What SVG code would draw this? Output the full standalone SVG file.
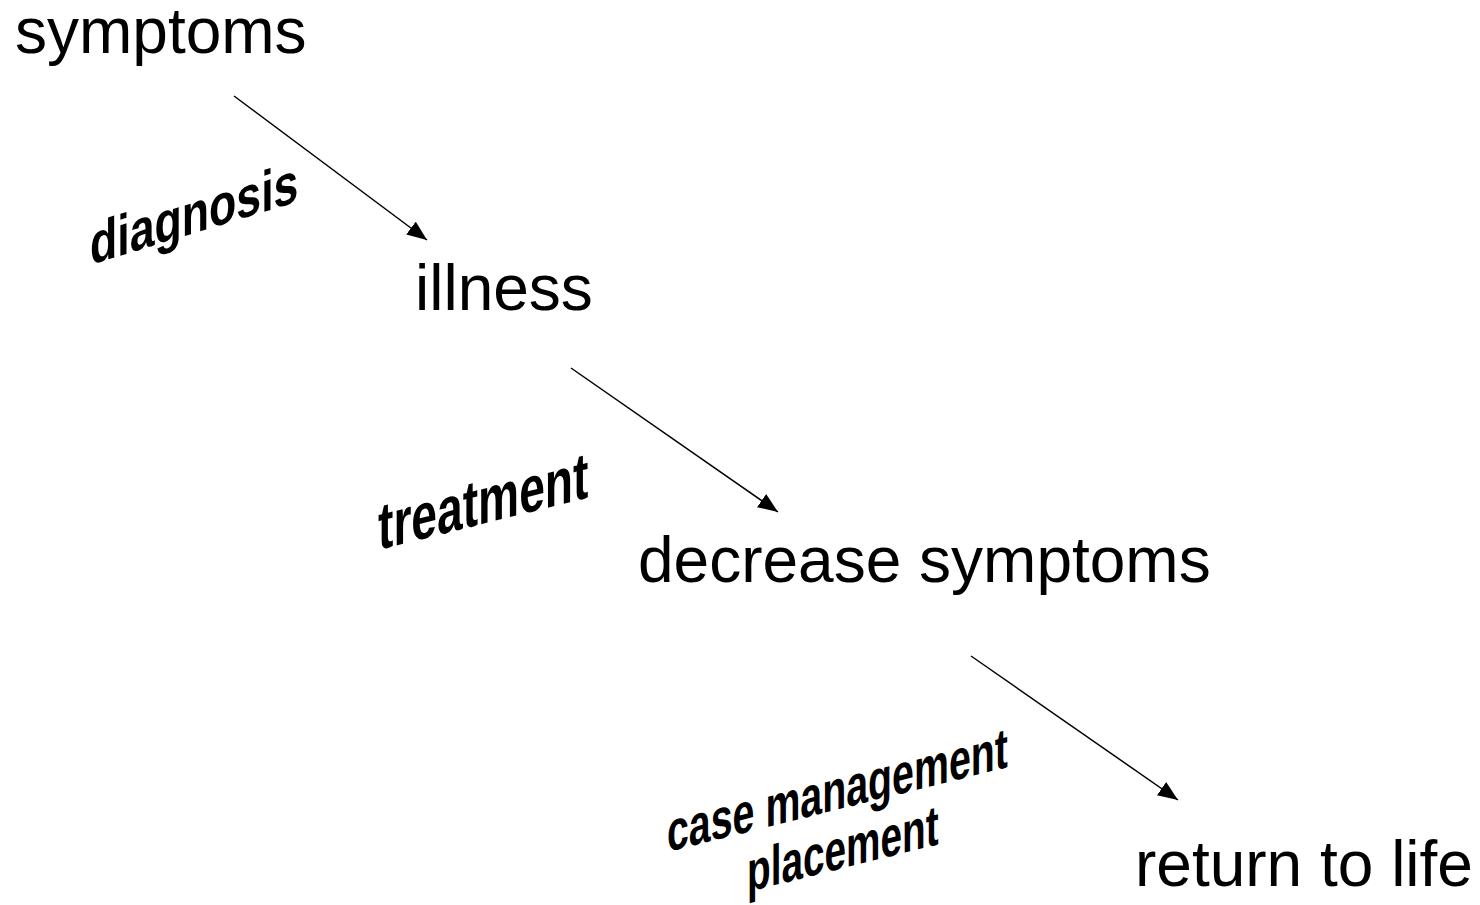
<svg xmlns="http://www.w3.org/2000/svg" width="1480" height="905" viewBox="0 0 1480 905">
<style>
.node{font-family:"Liberation Sans",Arial,sans-serif;font-size:64px;fill:#000}
.lbl{font-family:"Liberation Sans",Arial,sans-serif;font-weight:bold;fill:#000}
.conn{stroke:#000;stroke-width:1.5;fill:none}
</style>
<defs>
<marker id="ah" markerUnits="userSpaceOnUse" markerWidth="24" markerHeight="18" refX="20" refY="8" orient="auto">
<path d="M0,0 L20,8 L0,16 Z" fill="#000"/>
</marker>
</defs>
<rect width="1480" height="905" fill="#fff"/>
<g id="connectors">
<line class="conn" x1="234" y1="96" x2="427" y2="240" marker-end="url(#ah)"/>
<line class="conn" x1="571" y1="368" x2="778" y2="512" marker-end="url(#ah)"/>
<line class="conn" x1="971" y1="656" x2="1178" y2="800" marker-end="url(#ah)"/>
</g>
<g id="symptoms"><text class="node" x="15" y="53">symptoms</text></g>
<g id="illness"><text class="node" x="415" y="310">illness</text></g>
<g id="decrease"><text class="node" x="638" y="582">decrease symptoms</text></g>
<g id="return"><text class="node" x="1135" y="886">return to life</text></g>
<g id="lbl-diagnosis"><text class="lbl" font-size="58" transform="translate(90,265) skewY(-17) scale(0.77,1)">diagnosis</text></g>
<g id="lbl-treatment"><text class="lbl" font-size="66" transform="translate(378,550) skewY(-14) scale(0.70,1)">treatment</text></g>
<g id="lbl-case"><text class="lbl" font-size="57" transform="translate(667,852) skewY(-14) scale(0.69,1)">case management</text>
<text class="lbl" font-size="57" transform="translate(747,892) skewY(-14) scale(0.68,1)">placement</text></g>
</svg>
